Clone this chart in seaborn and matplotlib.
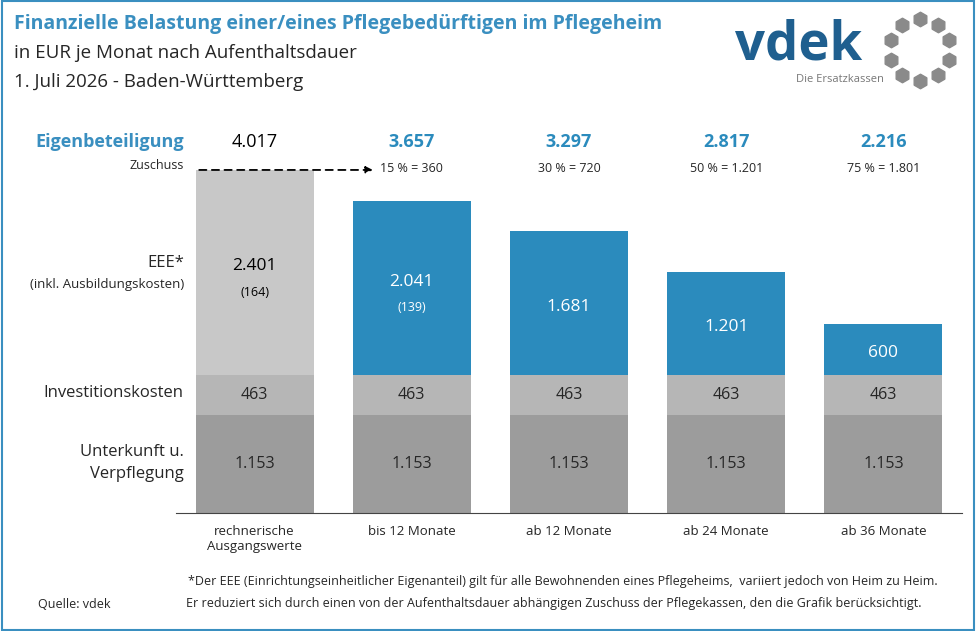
import matplotlib
matplotlib.use("Agg")
import matplotlib.pyplot as plt
import seaborn as sns
import numpy as np
import pandas as pd

sns.set_style("white")
plt.rcParams['font.family'] = ['Open Sans', 'DejaVu Sans']

categories = ["rechnerische\nAusgangswerte", "bis 12 Monate", "ab 12 Monate", "ab 24 Monate", "ab 36 Monate"]
unterkunft = [1153, 1153, 1153, 1153, 1153]
invest = [463, 463, 463, 463, 463]
eee = [2401, 2041, 1681, 1201, 600]
eee_sub = ["(164)", "(139)", "", "", ""]
total_labels = ["4.017", "3.657", "3.297", "2.817", "2.216"]
zuschuss = ["", "15 % = 360", "30 % = 720", "50 % = 1.201", "75 % = 1.801"]

def fmt(v):
    return f"{v:,}".replace(",", ".")

W, H = 976, 631
fig = plt.figure(figsize=(W/100, H/100), dpi=100)
ax = fig.add_axes([176/W, (H-513)/H, 786/W, 393/H])
x = np.arange(len(categories))
bw = 0.75
blue = "#2b8bbd"
ax.bar(x, unterkunft, width=bw, color="#9c9c9c", linewidth=0)
ax.bar(x, invest, bottom=unterkunft, width=bw, color="#b6b6b6", linewidth=0)
ax.bar(x, eee, bottom=np.array(unterkunft)+np.array(invest), width=bw,
       color=["#c8c8c8"] + [blue]*4, linewidth=0)
ax.set_xlim(-0.5, 4.5)
ax.set_ylim(0, 4602)
for s in ["top", "right", "left"]:
    ax.spines[s].set_visible(False)
ax.spines["bottom"].set_color("#444444")
ax.set_yticks([])
ax.set_xticks(np.arange(-0.5, 5, 1))
ax.set_xticklabels([])
ax.tick_params(axis="x", direction="out", length=5, color="#444444")
for i in range(5):
    ax.text(i, -140, categories[i], ha="center", va="top", fontsize=9.5, linespacing=1.25)
    ax.text(i, unterkunft[i]/2, fmt(unterkunft[i]), ha="center", va="center", fontsize=11.5)
    ax.text(i, unterkunft[i]+invest[i]/2, fmt(invest[i]), ha="center", va="center", fontsize=11.5)
    base = unterkunft[i]+invest[i]
    col = "black" if i == 0 else "white"
    if eee_sub[i]:
        ax.text(i, base+eee[i]/2+70, fmt(eee[i]), ha="center", va="center", fontsize=12.5, color=col)
        ax.text(i, base+eee[i]/2-230, eee_sub[i], ha="center", va="center", fontsize=9, color=col)
    else:
        ax.text(i, base+eee[i]/2-40, fmt(eee[i]), ha="center", va="center", fontsize=12.5, color=col)
    ax.text(i, 4340, total_labels[i], ha="center", va="center", fontsize=13,
            color="black" if i == 0 else blue, fontweight="normal" if i == 0 else "bold")
    if zuschuss[i]:
        ax.text(i, 4030, zuschuss[i], ha="center", va="center", fontsize=9)
ax.annotate("", xy=(0.77, 4017), xytext=(-0.37, 4017),
            arrowprops=dict(arrowstyle="-|>", linestyle=(0, (4, 3)), color="black", lw=1.3, mutation_scale=10))

# left labels
ax.text(-0.45, 4350, "Eigenbeteiligung", ha="right", va="center", fontsize=13, color="#3a8fc0", fontweight="bold")
ax.text(-0.45, 4070, "Zuschuss", ha="right", va="center", fontsize=9)
ax.text(-0.45, 2930, "EEE*", ha="right", va="center", fontsize=12)
ax.text(-0.45, 2680, "(inkl. Ausbildungskosten)", ha="right", va="center", fontsize=9.5)
ax.text(-0.45, 1400, "Investitionskosten", ha="right", va="center", fontsize=12)
ax.text(-0.45, 580, "Unterkunft u.\nVerpflegung", ha="right", va="center", fontsize=12, linespacing=1.5)

# titles
fig.text(14/W, 1-24/H, "Finanzielle Belastung einer/eines Pflegebedürftigen im Pflegeheim",
         fontsize=14, fontweight="bold", color="#3a8fc0", va="center")
fig.text(14/W, 1-53/H, "in EUR je Monat nach Aufenthaltsdauer", fontsize=13.5, va="center")
fig.text(14/W, 1-82/H, "1. Juli 2026 - Baden-Württemberg", fontsize=13.5, va="center")

# footnotes
fig.text(938/W, 1-581/H, "*Der EEE (Einrichtungseinheitlicher Eigenanteil) gilt für alle Bewohnenden eines Pflegeheims,  variiert jedoch von Heim zu Heim.",
         fontsize=9, ha="right", va="center")
fig.text(922/W, 1-604/H, "Er reduziert sich durch einen von der Aufenthaltsdauer abhängigen Zuschuss der Pflegekassen, den die Grafik berücksichtigt.",
         fontsize=9, ha="right", va="center")
fig.text(38/W, 1-604/H, "Quelle: vdek", fontsize=9, va="center")

# logo
fig.text(735/W, 1-46/H, "vdek", fontsize=38, fontweight="bold", color="#1f5f8f", va="center")
fig.text(796/W, 1-80/H, "Die Ersatzkassen", fontsize=8, color="#777777", va="center")
lax = fig.add_axes([880/W, 1-90/H, 80/W, 80/H])
ang = np.linspace(0, 2*np.pi, 10, endpoint=False) + np.pi/10
lax.scatter(np.cos(ang), np.sin(ang), s=110, marker="h", color="#8a8a8a")
lax.set_xlim(-1.3, 1.3); lax.set_ylim(-1.3, 1.3); lax.axis("off")

# frame
fig.add_artist(plt.Rectangle((0.002, 0.002), 0.996, 0.996, transform=fig.transFigure,
                             fill=False, edgecolor="#3a8fc0", lw=1.5))
fig.savefig("out.png", dpi=100)
